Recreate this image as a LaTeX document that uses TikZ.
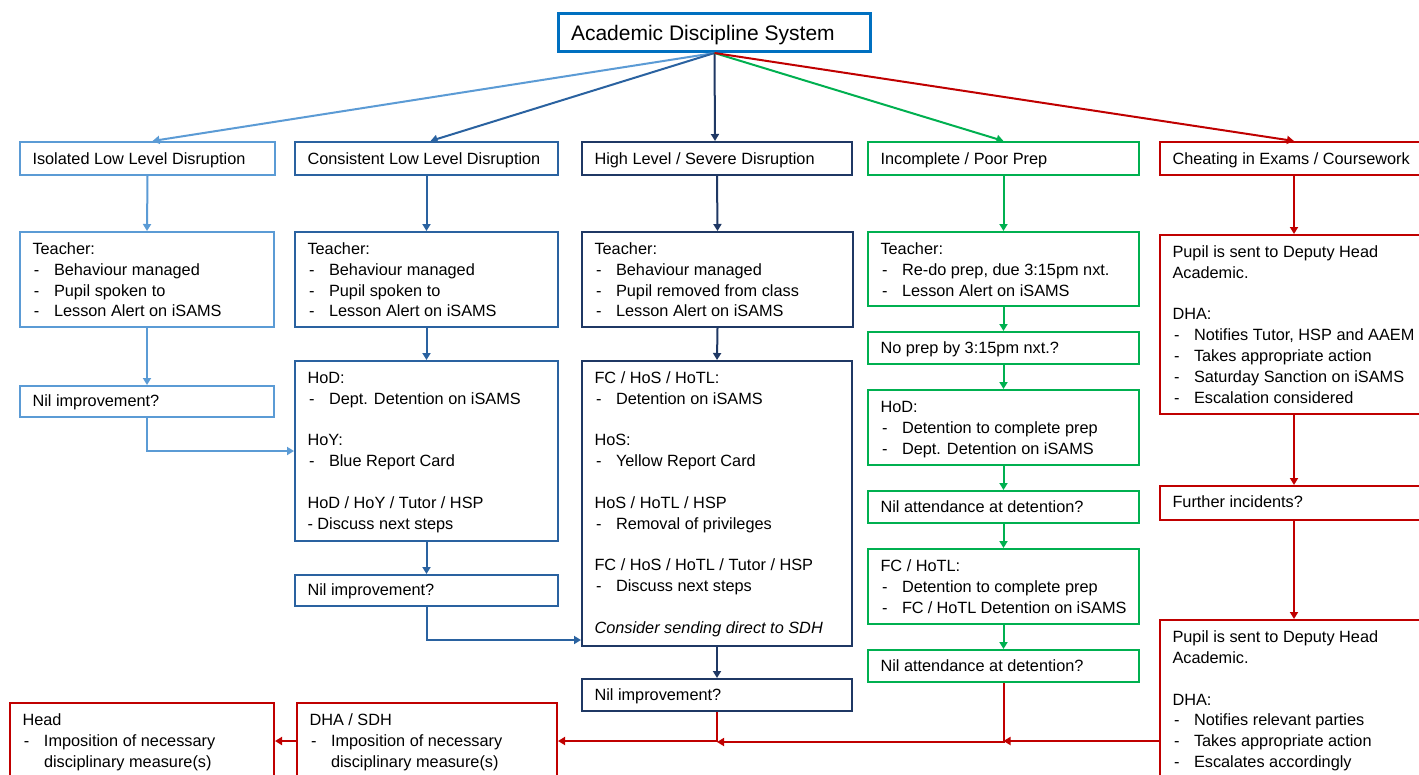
\documentclass[tikz,border=0pt]{standalone}
\usepackage{fontspec}
\setmainfont{Liberation Sans}
\usetikzlibrary{arrows.meta,calc}
\definecolor{isoC}{HTML}{5B9BD5}
\definecolor{conC}{HTML}{2A62A0}
\definecolor{highC}{HTML}{1F3864}
\definecolor{titleC}{HTML}{0070C0}
\definecolor{grnC}{HTML}{00B050}
\definecolor{redC}{HTML}{C00000}
\newcommand{\bl}[1]{\makebox[21.5pt][l]{\hspace{1.5pt}-}#1}
\newcommand{\gap}{\\[20.83pt]}
% #1 text width, #2 height, #3 first baseline, #4 content
\newcommand{\mt}[4]{\parbox[c][#2pt][t]{#1pt}{\raggedright\fontsize{16.3}{20.83}\selectfont\rule{0pt}{#3pt}#4}}
\begin{document}
\begin{tikzpicture}[x=1pt,y=-1pt,
  box/.style={draw, line width=2pt, inner xsep=12.5pt, inner ysep=0pt, anchor=north west},
  arr/.style={line width=2pt, -{Triangle[length=7pt,width=8pt]}}]
\useasboundingbox (0,0) rectangle (1419,774);
\clip (0,0) rectangle (1419,774);
\fill[white] (0,0) rectangle (1419,774);

% title
\node[box, draw=titleC, line width=3pt] (title) at (557,12)
  {\parbox[c][38pt][t]{287pt}{\fontsize{21}{25}\selectfont\rule{0pt}{27.3pt}Academic Discipline System}};

% row 1
\node[box, draw=isoC] (iso1) at (19,141) {\mt{230}{33}{22.3}{Isolated Low Level Disruption}};
\node[box, draw=conC] (con1) at (294,141) {\mt{238}{33}{22.3}{Consistent Low Level Disruption}};
\node[box, draw=highC] (high1) at (581,141) {\mt{245}{33}{22.3}{High Level / Severe Disruption}};
\node[box, draw=grnC] (inc1) at (867,141) {\mt{246}{33}{22.3}{Incomplete / Poor Prep}};
\node[box, draw=redC] (che1) at (1159,141) {\mt{243}{33}{22.3}{Cheating in Exams / Coursework}};

% isolated column
\node[box, draw=isoC] (iso2) at (19,231) {\mt{229}{95}{22.5}{Teacher:\\\bl{Behaviour managed}\\\bl{Pupil spoken to}\\\bl{Lesson Alert on iSAMS}}};
\node[box, draw=isoC] (isonil) at (19,385) {\mt{229}{31}{20.5}{Nil improvement?}};

% consistent column
\node[box, draw=conC] (con2) at (294,231) {\mt{238}{95}{22.5}{Teacher:\\\bl{Behaviour managed}\\\bl{Pupil spoken to}\\\bl{Lesson Alert on iSAMS}}};
\node[box, draw=conC] (conhod) at (294,360) {\mt{238}{180}{22.5}{HoD:\\\bl{Dept. Detention on iSAMS}\gap HoY:\\\bl{Blue Report Card}\gap HoD / HoY / Tutor / HSP\\- Discuss next steps}};
\node[box, draw=conC] (connil) at (294,574) {\mt{238}{31}{20.5}{Nil improvement?}};

% high column
\node[box, draw=highC] (high2) at (581,231) {\mt{246}{95}{22.5}{Teacher:\\\bl{Behaviour managed}\\\bl{Pupil removed from class}\\\bl{Lesson Alert on iSAMS}}};
\node[box, draw=highC] (highfc) at (581,360) {\mt{245}{285}{22.5}{FC / HoS / HoTL:\\\bl{Detention on iSAMS}\gap HoS:\\\bl{Yellow Report Card}\gap HoS / HoTL / HSP\\\bl{Removal of privileges}\gap FC / HoS / HoTL / Tutor / HSP\\\bl{Discuss next steps}\gap \textit{Consider sending direct to SDH}}};
\node[box, draw=highC] (highnil) at (581,678) {\mt{245}{32}{21}{Nil improvement?}};

% incomplete column
\node[box, draw=grnC] (inc2) at (867,231) {\mt{246}{74}{22.5}{Teacher:\\\bl{Re-do prep, due 3:15pm nxt.}\\\bl{Lesson Alert on iSAMS}}};
\node[box, draw=grnC] (incnp) at (867,331) {\mt{246}{32}{21}{No prep by 3:15pm nxt.?}};
\node[box, draw=grnC] (inchod) at (867,389) {\mt{246}{75}{22.5}{HoD:\\\bl{Detention to complete prep}\\\bl{Dept. Detention on iSAMS}}};
\node[box, draw=grnC] (incnil) at (867,490) {\mt{246}{32}{21}{Nil attendance at detention?}};
\node[box, draw=grnC] (incfc) at (867,548) {\mt{246}{75}{22.5}{FC / HoTL:\\\bl{Detention to complete prep}\\\bl{FC / HoTL Detention on iSAMS}}};
\node[box, draw=grnC] (incnil2) at (867,649) {\mt{246}{32}{21}{Nil attendance at detention?}};

% cheating column
\node[box, draw=redC] (che2) at (1159,234) {\mt{243}{179}{22.5}{Pupil is sent to Deputy Head\\Academic.\gap DHA:\\\bl{Notifies Tutor, HSP and AAEM}\\\bl{Takes appropriate action}\\\bl{Saturday Sanction on iSAMS}\\\bl{Escalation considered}}};
\node[box, draw=redC] (chefur) at (1159,485) {\mt{243}{34}{21.5}{Further incidents?}};
\node[box, draw=redC] (chedha2) at (1159,619) {\mt{243}{242}{22.5}{Pupil is sent to Deputy Head\\Academic.\gap DHA:\\\bl{Notifies relevant parties}\\\bl{Takes appropriate action}\\\bl{Escalates accordingly}}};

% bottom
\node[box, draw=redC] (head) at (9,702) {\mt{239}{76}{22.5}{Head\\\bl{Imposition of necessary}\\\hspace*{21.5pt}disciplinary measure(s)}};
\node[box, draw=redC] (dhs) at (296,702) {\mt{235}{76}{22.5}{DHA / SDH\\\bl{Imposition of necessary}\\\hspace*{21.5pt}disciplinary measure(s)}};

% connectors from title
\draw[arr, isoC] (title.south) -- ([xshift=5pt]iso1.north);
\draw[arr, conC] (title.south) -- ([xshift=4pt]con1.north);
\draw[arr, highC] (title.south) -- ([xshift=-2pt]high1.north);
\draw[arr, grnC] (title.south) -- (inc1.north);
\draw[arr, redC] (title.south) -- (che1.north);

% isolated
\draw[arr, isoC] (iso1.south) -- (iso2.north);
\draw[arr, isoC] (iso2.south) -- (isonil.north);
\draw[arr, isoC] (isonil.south) |- (conhod.west);

% consistent
\draw[arr, conC] (con1.south) -- (con2.north);
\draw[arr, conC] (con2.south) -- (conhod.north);
\draw[arr, conC] (conhod.south) -- (connil.north);
\draw[arr, conC] (connil.south) |- ([yshift=7pt]highfc.south west);

% high
\draw[arr, highC] (high1.south) -- (high2.north);
\draw[arr, highC] (high2.south) -- (highfc.north);
\draw[arr, highC] (highfc.south) -- (highnil.north);
\draw[arr, redC] (highnil.south) |- (dhs.east);

% incomplete
\draw[arr, grnC] (inc1.south) -- (inc2.north);
\draw[arr, grnC] (inc2.south) -- (incnp.north);
\draw[arr, grnC] (incnp.south) -- (inchod.north);
\draw[arr, grnC] (inchod.south) -- (incnil.north);
\draw[arr, grnC] (incnil.south) -- (incfc.north);
\draw[arr, grnC] (incfc.south) -- (incnil2.north);
\draw[arr, redC] (incnil2.south) |- ([yshift=-30pt]highnil.south);

% cheating
\draw[arr, redC] (che1.south) -- (che2.north);
\draw[arr, redC] (che2.south) -- (chefur.north);
\draw[arr, redC] (chefur.south) -- (chedha2.north);
\draw[arr, redC] (chedha2.west) -- (incnil2.south |- chedha2.west);

% bottom
\draw[arr, redC] (dhs.west) -- (head.east);
\end{tikzpicture}
\end{document}
